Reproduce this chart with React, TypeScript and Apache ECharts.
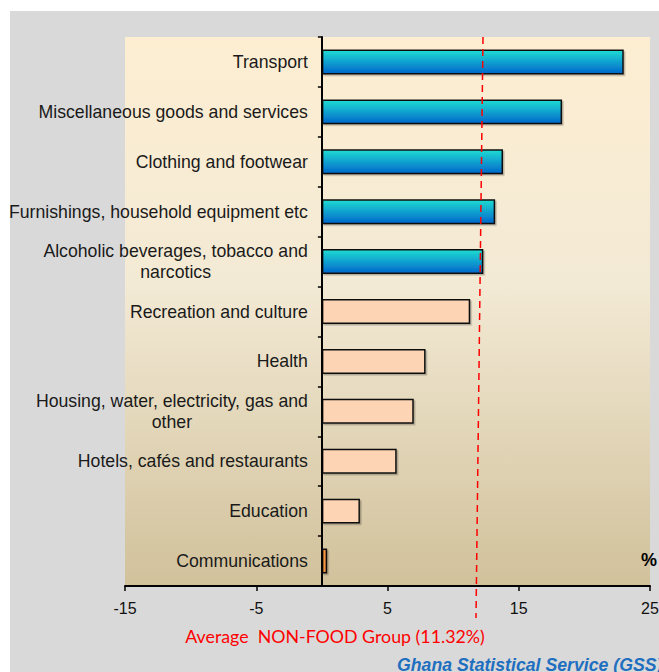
import React, { useEffect, useRef } from "react";
import * as echarts from "echarts";

const categories = [
  "Transport",
  "Miscellaneous goods and services",
  "Clothing and footwear",
  "Furnishings, household equipment etc",
  "Alcoholic beverages, tobacco and\nnarcotics",
  "Recreation and culture",
  "Health",
  "Housing, water, electricity, gas and\nother",
  "Hotels, cafés and restaurants",
  "Education",
  "Communications",
];
const values = [23.0, 18.3, 13.8, 13.2, 12.3, 11.3, 7.9, 7.0, 5.7, 2.9, 0.4];
const groups = ["blue", "blue", "blue", "blue", "blue", "peach", "peach", "peach", "peach", "peach", "orange"];
const xTicks = [-15, -5, 5, 15, 25];
const xMin = -15;
const xMax = 25;
const averageNonFood = 11.32;
const sourceText = "Ghana Statistical Service (GSS)";

const GRID_LEFT = 125;
const GRID_RIGHT = 9;
const WIDTH = 659;

export default function App() {
  const ref = useRef<HTMLDivElement>(null);
  useEffect(() => {
    if (!ref.current) return;
    const chart = echarts.init(ref.current, null, { renderer: "svg" });
    const blue = new echarts.graphic.LinearGradient(0, 0, 0, 1, [
      { offset: 0, color: "#1fdcd2" },
      { offset: 1, color: "#0066cc" },
    ]);
    const fills: Record<string, any> = { blue, peach: "#fdd5b4", orange: "#f7963f" };
    const labelFont = { fontFamily: "Liberation Sans, Arial, sans-serif", fontSize: 17.7, color: "#1a1a1a" };
    const gridWidth = WIDTH - GRID_LEFT - GRID_RIGHT;
    const zeroOffset = ((0 - xMin) / (xMax - xMin)) * gridWidth;
    chart.setOption({
      animation: false,
      backgroundColor: "#ffffff",
      grid: {
        left: GRID_LEFT,
        right: GRID_RIGHT,
        top: 37,
        bottom: 86,
        containLabel: false,
        outerBoundsMode: "none",
        show: true,
        borderWidth: 0,
        backgroundColor: new echarts.graphic.LinearGradient(0, 0, 0, 1, [
          { offset: 0, color: "#fdeed2" },
          { offset: 0.45, color: "#f3ead5" },
          { offset: 1, color: "#d1c19b" },
        ]),
      },
      xAxis: {
        type: "value",
        min: xMin,
        max: xMax,
        z: 5,
        axisLine: { show: true, onZero: false, lineStyle: { color: "#000", width: 2 } },
        axisTick: { show: true, length: 5, customValues: xTicks, lineStyle: { color: "#000", width: 1.5 } },
        axisLabel: {
          customValues: xTicks,
          margin: 14,
          fontFamily: "Liberation Sans, Arial, sans-serif",
          fontSize: 16,
          color: "#111",
        },
        splitLine: { show: false },
      },
      yAxis: {
        type: "category",
        inverse: true,
        data: categories,
        z: 5,
        position: "left",
        offset: -zeroOffset,
        axisLine: { show: true, onZero: false, lineStyle: { color: "#000", width: 2 } },
        axisTick: { show: true, length: 4, lineStyle: { color: "#000", width: 1.5 } },
        axisLabel: {
          ...labelFont,
          margin: 14,
          lineHeight: 21,
          formatter: (v: string) =>
            v.indexOf("\n") >= 0
              ? v
                  .split("\n")
                  .map((s) => `{c|${s}}`)
                  .join("\n")
              : v,
          rich: { c: { ...labelFont, align: "center", lineHeight: 21 } },
        },
      },
      series: [
        {
          type: "bar",
          barCategoryGap: "50%",
          z: 3,
          data: values.map((v, i) => ({
            value: v,
            itemStyle: {
              color: fills[groups[i]],
              borderColor: "#111",
              borderWidth: 1.5,
              shadowColor: "rgba(0,0,0,0.25)",
              shadowOffsetX: 1.5,
              shadowOffsetY: 1.5,
              shadowBlur: 1,
            },
          })),
        },
      ],
      graphic: [
        {
          type: "rect",
          z: -100,
          silent: true,
          shape: { x: 10, y: 11, width: 660, height: 670 },
          style: { fill: "#d9d9d9" },
        },
        {
          type: "line",
          z: 100,
          silent: true,
          shape: { x1: 483, y1: 37, x2: 476, y2: 618 },
          style: { stroke: "#ff0000", lineWidth: 1.5, lineDash: [7, 5] },
        },
        {
          type: "text",
          z: 100,
          x: 335,
          y: 636,
          style: {
            text: `Average  NON-FOOD Group (${averageNonFood}%)`,
            fill: "#ff0000",
            font: "17.8px Lato, 'Noto Sans', sans-serif",
            align: "center",
            verticalAlign: "middle",
          },
        },
        {
          type: "text",
          z: 100,
          x: 397,
          y: 665,
          style: {
            text: sourceText,
            fill: "#1f6fc0",
            font: "italic bold 17.7px 'Liberation Sans', Arial, sans-serif",
            align: "left",
            verticalAlign: "middle",
          },
        },
        {
          type: "text",
          z: 100,
          x: 641,
          y: 560,
          style: {
            text: "%",
            fill: "#000",
            font: "bold 18px 'Liberation Sans', Arial, sans-serif",
            align: "left",
            verticalAlign: "middle",
          },
        },
      ],
    });
    return () => chart.dispose();
  }, []);
  return <div ref={ref} style={{ position: "absolute", left: 0, top: 0, width: 659, height: 672 }} />;
}
